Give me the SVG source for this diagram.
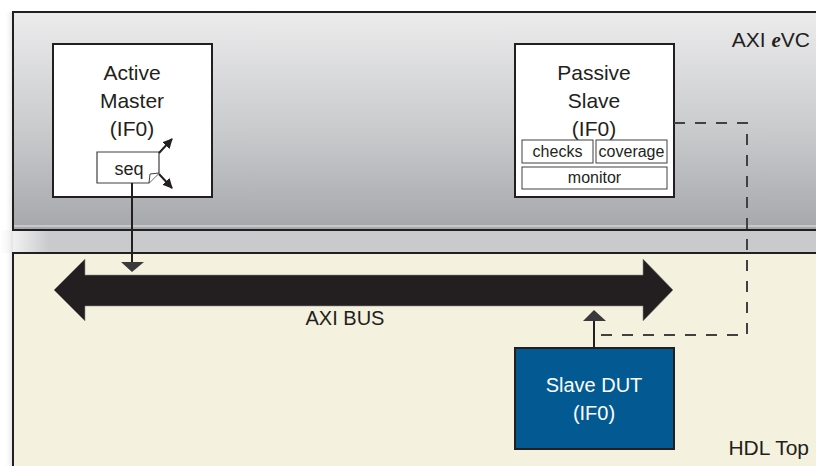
<svg xmlns="http://www.w3.org/2000/svg" width="816" height="466" viewBox="0 0 816 466">
  <defs>
    <linearGradient id="evcFill" x1="0" y1="0" x2="0" y2="1">
      <stop offset="0" stop-color="#ececed"/>
      <stop offset="0.55" stop-color="#c9cacc"/>
      <stop offset="1" stop-color="#a5a7aa"/>
    </linearGradient>
    <linearGradient id="gapShade" x1="0" y1="0" x2="1" y2="0">
      <stop offset="0" stop-color="#ffffff"/>
      <stop offset="0.06" stop-color="#c9cacc"/>
      <stop offset="1" stop-color="#c9cacc"/>
    </linearGradient>
    <linearGradient id="edgeShade" x1="0" y1="0" x2="1" y2="0">
      <stop offset="0" stop-color="#ffffff" stop-opacity="0"/>
      <stop offset="1" stop-color="#e2e3e4"/>
    </linearGradient>
    <marker id="tri" viewBox="0 0 10 10" refX="9" refY="5" markerWidth="5" markerHeight="5" orient="auto">
      <path d="M0,0 L10,5 L0,10 Z" fill="#231f20"/>
    </marker>
  </defs>
  <style>
    .lbl { font-family: "Liberation Sans", Arial, sans-serif; fill: #231f20; text-anchor: middle; }
    .big { font-size: 21px; }
    .mid { font-size: 18px; }
    .sm { font-size: 16px; }
    .box { fill: #ffffff; stroke: #231f20; stroke-width: 2; }
    .sub { fill: #ffffff; stroke: #414042; stroke-width: 1; }
    .panel { stroke: #231f20; stroke-width: 2; }
    .wire { fill: none; stroke: #231f20; stroke-width: 2; }
    .dash { fill: none; stroke: #414042; stroke-width: 2; stroke-dasharray: 11 10; }
    .head { fill: #3a3a3c; }
  </style>

  <!-- background and soft shading round the panels -->
  <rect x="0" y="0" width="816" height="466" fill="#ffffff"/>
  <rect x="0" y="230" width="816" height="23" fill="url(#gapShade)"/>
  <rect x="4" y="12" width="9" height="454" fill="url(#edgeShade)"/>

  <!-- eVC panel -->
  <g id="evc-panel">
    <rect class="panel" x="13" y="12" width="820" height="218" fill="url(#evcFill)"/>
    <line x1="14" y1="226" x2="816" y2="226" stroke="#d2d3d5" stroke-width="1.5"/>
    <text class="lbl" x="810" y="47" style="font-size:21px;text-anchor:end">AXI <tspan font-family="Liberation Serif, serif" font-style="italic" font-weight="bold">e</tspan>VC</text>
  </g>

  <!-- HDL panel -->
  <g id="hdl-panel">
    <rect class="panel" x="13" y="253" width="820" height="230" fill="#f4f2de"/>
    <text class="lbl" x="809" y="455" style="font-size:21px;text-anchor:end">HDL Top</text>
  </g>

  <!-- AXI bus -->
  <g id="axi-bus">
    <path d="M54,290 L85,259 L85,275 L643,275 L643,259 L673,290 L643,321 L643,306 L85,306 L85,321 Z" fill="#231f20" stroke="#8a8a8a" stroke-width="0.6"/>
    <text class="lbl" x="345" y="325" style="font-size:20px">AXI BUS</text>
  </g>

  <!-- Active master agent -->
  <g id="active-master">
    <rect class="box" x="53" y="44" width="159" height="153"/>
    <text class="lbl big" x="132" y="80">Active</text>
    <text class="lbl big" x="132" y="108">Master</text>
    <text class="lbl big" x="132" y="136">(IF0)</text>
  </g>

  <!-- sequencer inside the master -->
  <g id="seq">
    <path d="M97,152 H159 V173 L149,183 H97 Z" fill="#ffffff" stroke="#414042" stroke-width="1.2"/>
    <path d="M149,183 L150,174 L159,173" fill="#ffffff" stroke="#414042" stroke-width="1"/>
    <text class="lbl mid" x="129" y="175">seq</text>
  </g>

  <!-- Passive slave agent -->
  <g id="passive-slave">
    <rect class="box" x="515" y="44" width="159" height="153"/>
    <text class="lbl big" x="594" y="80">Passive</text>
    <text class="lbl big" x="594" y="108">Slave</text>
    <text class="lbl big" x="594" y="136">(IF0)</text>
  </g>
  <g id="checks">
    <rect class="sub" x="522" y="140" width="71" height="23"/>
    <text class="lbl sm" x="557.5" y="157">checks</text>
  </g>
  <g id="coverage">
    <rect class="sub" x="596" y="140" width="71" height="23"/>
    <text class="lbl sm" x="631.5" y="157">coverage</text>
  </g>
  <g id="monitor">
    <rect class="sub" x="522" y="167" width="145" height="22"/>
    <text class="lbl sm" x="594.5" y="183">monitor</text>
  </g>

  <!-- Slave DUT -->
  <g id="slave-dut">
    <rect x="515" y="348" width="159" height="101" fill="#035a92" stroke="#231f20" stroke-width="2"/>
    <text class="lbl" x="594" y="392" style="font-size:20px;fill:#ffffff">Slave DUT</text>
    <text class="lbl" x="594" y="420" style="font-size:20px;fill:#ffffff">(IF0)</text>
  </g>

  <!-- connectors -->
  <g id="connectors">
    <line class="wire" x1="159" y1="153" x2="172" y2="139" stroke-width="1.5" marker-end="url(#tri)"/>
    <line class="wire" x1="159" y1="174" x2="172" y2="188" stroke-width="1.5" marker-end="url(#tri)"/>
    <line class="wire" x1="132" y1="183" x2="132" y2="263"/>
    <path class="head" d="M121,262 H144 L132,272 Z"/>
    <line class="wire" x1="594" y1="348" x2="594" y2="320"/>
    <path class="head" d="M583,321 H606 L594,310 Z"/>
    <path class="dash" d="M674,123 H747 V335 H595"/>
  </g>
</svg>
